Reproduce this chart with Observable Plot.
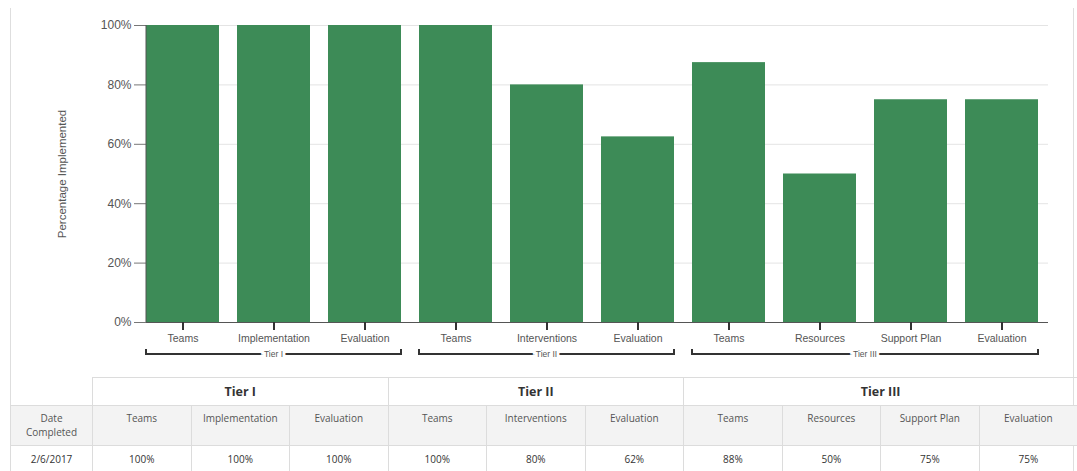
<!DOCTYPE html>
<html><head><meta charset="utf-8">
<script src="https://cdn.jsdelivr.net/npm/d3@7"></script>
<script src="https://cdn.jsdelivr.net/npm/@observablehq/plot@0.6"></script>
<style>
html,body{margin:0;padding:0;background:#fff;}
body{width:1077px;height:471px;overflow:hidden;position:relative;font-family:"Open Sans",sans-serif;}
#panel{position:absolute;left:10px;top:8px;width:1064px;height:480px;border-left:1px solid #dedede;border-right:1px solid #dedede;box-sizing:border-box;}
#chart{position:absolute;left:0;top:0;}
table{position:absolute;left:10px;top:377px;border-collapse:collapse;table-layout:fixed;width:1067px;}
td{border:1px solid #dcdcdc;text-align:center;font-size:10px;color:#555;padding:0;line-height:14px;}
tr.tier td{height:27px;font-weight:bold;font-size:12.5px;color:#333;}
tr.tier td.blank{border-top:none;border-left:none;}
tr.cols td{height:40px;background:#f3f3f3;vertical-align:top;padding-top:5px;box-sizing:border-box;}
tr.vals td{height:25px;color:#333;}
</style>
</head><body>
<div id="panel"></div>
<div id="chart"></div>
<table id="tbl"></table>
<script>
const tiers = ["Tier I", "Tier II", "Tier III"];
const categories = ["Teams", "Implementation", "Evaluation", "Teams", "Interventions", "Evaluation", "Teams", "Resources", "Support Plan", "Evaluation"];
const categoryTier = ["Tier I", "Tier I", "Tier I", "Tier II", "Tier II", "Tier II", "Tier III", "Tier III", "Tier III", "Tier III"];
const values = [100, 100, 100, 100, 80, 62.5, 87.5, 50, 75, 75];
const tableValues = ["100%", "100%", "100%", "100%", "80%", "62%", "88%", "50%", "75%", "75%"];
const dateCompleted = "2/6/2017";
const yTicks = [0, 20, 40, 60, 80, 100];
const yLabel = "Percentage Implemented";

const data = categories.map((c, i) => ({key: categoryTier[i] + "|" + c, tier: categoryTier[i], cat: c, value: values[i]}));

const plot = Plot.plot({
  width: 1077, height: 377,
  marginLeft: 146, marginRight: 29, marginTop: 25, marginBottom: 55,
  style: {fontFamily: "'Liberation Sans', Arial, sans-serif", background: "transparent", overflow: "visible"},
  x: {domain: data.map(d => d.key), paddingInner: 0.2, paddingOuter: 0.04, align: 0, label: null},
  y: {domain: [0, 100], label: null},
  marks: [
    Plot.gridY(yTicks, {stroke: "#e4e4e4", strokeOpacity: 1}),
    Plot.barY(data, {x: "key", y: "value", fill: "#3d8b57"}),
    Plot.ruleY([0], {stroke: "#555"}),
    Plot.axisY(yTicks, {tickFormat: d => d + "%", tickSize: 12, tickPadding: 3, fontSize: 12, stroke: "#777", fill: "#555", label: null}),
    Plot.axisX({tickFormat: d => d.split("|")[1], tickSize: 8, tickPadding: 4, fontSize: 10.5, stroke: "#333", strokeWidth: 2, fill: "#555", label: null}),
    Plot.text([yLabel], {frameAnchor: "left", dx: -84, rotate: -90, textAnchor: "middle", fontSize: 11.5, fill: "#555"})
  ]
});
document.getElementById("chart").appendChild(plot);

// y-axis line and tier brackets drawn from Plot's own scales
const xs = plot.scale("x"), ys = plot.scale("y");
const svg = d3.select(plot);
const x0 = xs.range[0];
svg.append("line").attr("x1", x0).attr("x2", x0).attr("y1", ys.apply(0)).attr("y2", ys.apply(100)).attr("stroke", "#555");
const yb = ys.apply(0) + 32;
tiers.forEach(t => {
  const keys = data.filter(d => d.tier === t).map(d => d.key);
  const a = xs.apply(keys[0]), b = xs.apply(keys[keys.length - 1]) + xs.bandwidth;
  svg.append("path").attr("d", `M${a},${yb - 5}V${yb}H${b}V${yb - 5}`).attr("fill", "none").attr("stroke", "#333").attr("stroke-width", 2);
  svg.append("text").attr("x", (a + b) / 2).attr("y", yb).attr("dy", "0.32em").attr("text-anchor", "middle")
    .attr("font-size", 8.5).attr("fill", "#555").attr("stroke", "white").attr("stroke-width", 6).attr("paint-order", "stroke")
    .attr("font-family", "'Liberation Sans', Arial, sans-serif").text(t);
});

// table
const tbl = d3.select("#tbl");
const cg = tbl.append("colgroup");
cg.append("col").style("width", "82px");
categories.forEach(() => cg.append("col").style("width", "98.5px"));
const r1 = tbl.append("tr").attr("class", "tier");
r1.append("td").attr("class", "blank");
tiers.forEach(t => r1.append("td").attr("colspan", categoryTier.filter(c => c === t).length).text(t));
const r2 = tbl.append("tr").attr("class", "cols");
r2.append("td").html("Date<br>Completed");
categories.forEach(c => r2.append("td").text(c));
const r3 = tbl.append("tr").attr("class", "vals");
r3.append("td").text(dateCompleted);
tableValues.forEach(v => r3.append("td").text(v));
</script>
</body></html>
